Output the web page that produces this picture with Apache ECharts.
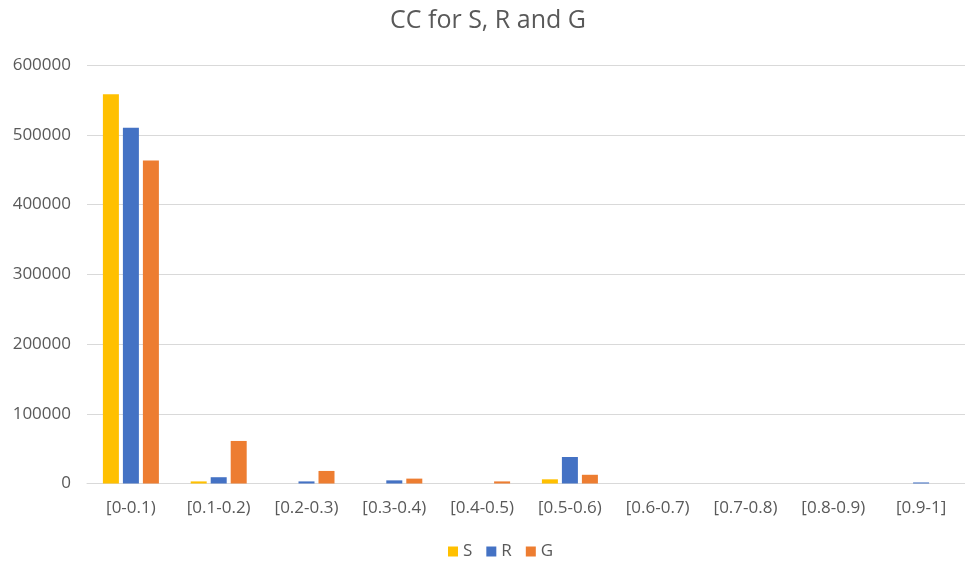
<!DOCTYPE html>
<html>
<head>
<meta charset="utf-8">
<script src="https://cdn.jsdelivr.net/npm/echarts@6/dist/echarts.min.js"></script>
<style>
  html, body { margin: 0; padding: 0; background: #fff; }
  #chart { width: 965px; height: 563px; }
</style>
</head>
<body>
<div id="chart"></div>
<script>
// Bins of the CC value
const categories = ['[0-0.1)', '[0.1-0.2)', '[0.2-0.3)', '[0.3-0.4)', '[0.4-0.5)',
                    '[0.5-0.6)', '[0.6-0.7)', '[0.7-0.8)', '[0.8-0.9)', '[0.9-1]'];

// Counts per bin
const seriesS = [558000, 3000, 0, 0, 0, 6000, 0, 0, 0, 0];
const seriesR = [510000, 9000, 3000, 4500, 0, 38000, 0, 0, 0, 1500];
const seriesG = [463000, 61000, 18000, 7000, 3000, 12500, 0, 0, 0, 0];

const yTicks = [0, 100000, 200000, 300000, 400000, 500000, 600000];

const FONT = '"Open Sans", "Noto Sans", sans-serif';
const TEXT = '#595959';

const chart = echarts.init(document.getElementById('chart'), null, { renderer: 'canvas' });

function bar(name, data, color) {
  return {
    name: name,
    type: 'bar',
    data: data,
    barWidth: 16,
    barGap: '25%',
    itemStyle: { color: color },
    emphasis: { disabled: true }
  };
}

chart.setOption({
  animation: false,
  backgroundColor: '#ffffff',
  textStyle: { fontFamily: FONT },
  title: {
    text: 'CC for S, R and G',
    left: 390,
    top: 8,
    padding: 0,
    textStyle: { fontFamily: FONT, fontSize: 25, fontWeight: 'normal', color: TEXT }
  },
  legend: {
    top: 543,
    left: 448,
    padding: 0,
    itemWidth: 10,
    itemHeight: 10,
    itemGap: 14,
    icon: 'rect',
    textStyle: { fontFamily: FONT, fontSize: 17, color: TEXT },
    data: ['S', 'R', 'G']
  },
  grid: { left: 87, right: -6, top: 65, bottom: 79.5, containLabel: false },
  xAxis: {
    type: 'category',
    data: categories,
    axisLine: { lineStyle: { color: '#D9D9D9', width: 1 } },
    axisTick: { show: false },
    axisLabel: { fontFamily: FONT, fontSize: 17, color: TEXT, margin: 16, interval: 0 }
  },
  yAxis: {
    type: 'value',
    min: yTicks[0],
    max: yTicks[yTicks.length - 1],
    interval: 100000,
    axisLine: { show: false },
    axisTick: { show: false },
    splitLine: { lineStyle: { color: '#D9D9D9', width: 1 } },
    axisLabel: {
      fontFamily: FONT, fontSize: 17, color: TEXT, margin: 16,
      formatter: function (v) { return String(v); }
    }
  },
  series: [
    bar('S', seriesS, '#FFC000'),
    bar('R', seriesR, '#4472C4'),
    bar('G', seriesG, '#ED7D31')
  ]
});
</script>
</body>
</html>
